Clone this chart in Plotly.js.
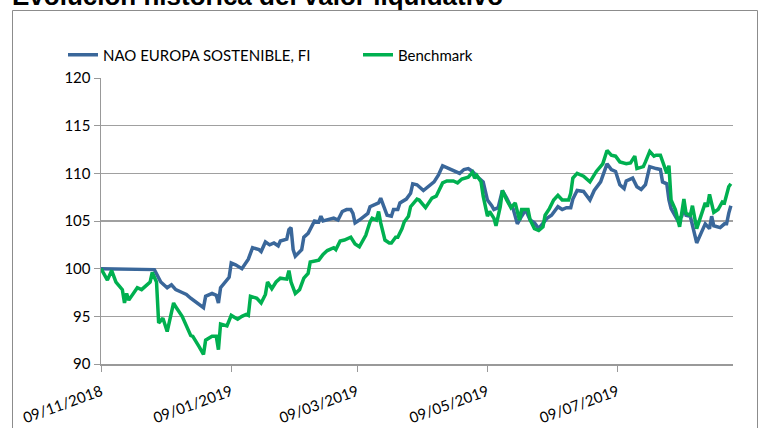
<!DOCTYPE html>
<html>
<head>
<meta charset="utf-8">
<script src="https://cdn.plot.ly/plotly-3.0.1.min.js"></script>
<style>html,body{margin:0;padding:0;background:#fff;}#chart{width:759px;height:428px;}</style>
</head>
<body>
<div id="chart"></div>
<script>
// ---- Data ----
const chartTitle = "Evolución histórica del valor liquidativo";
const fundName = "NAO EUROPA SOSTENIBLE, FI";
const benchName = "Benchmark";

const fundDates = [
"2018-11-09","2018-12-04","2018-12-07","2018-12-10","2018-12-12","2018-12-14","2018-12-17","2018-12-19","2018-12-21","2018-12-24",
"2018-12-27","2018-12-28","2018-12-31","2019-01-02","2019-01-03","2019-01-04","2019-01-06","2019-01-08","2019-01-09","2019-01-11",
"2019-01-14","2019-01-17","2019-01-18","2019-01-19","2019-01-22","2019-01-23","2019-01-25","2019-01-27","2019-01-29","2019-01-31",
"2019-02-01","2019-02-04","2019-02-05","2019-02-06","2019-02-07","2019-02-08","2019-02-11","2019-02-12","2019-02-14","2019-02-16",
"2019-02-17","2019-02-19","2019-02-20","2019-02-21","2019-02-24","2019-02-26","2019-02-28","2019-03-02","2019-03-04","2019-03-06",
"2019-03-07","2019-03-08","2019-03-10","2019-03-12","2019-03-14","2019-03-15","2019-03-17","2019-03-19","2019-03-20","2019-03-21",
"2019-03-23","2019-03-25","2019-03-26","2019-03-28","2019-03-29","2019-04-01","2019-04-03","2019-04-04","2019-04-06","2019-04-09",
"2019-04-12","2019-04-14","2019-04-16","2019-04-18","2019-04-21","2019-04-23","2019-04-26","2019-04-28","2019-04-30","2019-05-02",
"2019-05-04","2019-05-07","2019-05-08","2019-05-09","2019-05-11","2019-05-12","2019-05-14","2019-05-16","2019-05-18","2019-05-20",
"2019-05-21","2019-05-23","2019-05-25","2019-05-27","2019-05-28","2019-05-29","2019-05-31","2019-06-02","2019-06-03","2019-06-05",
"2019-06-06","2019-06-08","2019-06-10","2019-06-11","2019-06-13","2019-06-15","2019-06-17","2019-06-18","2019-06-20","2019-06-23",
"2019-06-26","2019-06-28","2019-07-01","2019-07-04","2019-07-06","2019-07-08","2019-07-10","2019-07-12","2019-07-13","2019-07-16",
"2019-07-18","2019-07-20","2019-07-22","2019-07-23","2019-07-24","2019-07-27","2019-07-29","2019-07-30","2019-08-01","2019-08-02",
"2019-08-03","2019-08-06","2019-08-08","2019-08-09","2019-08-10","2019-08-12","2019-08-14","2019-08-15","2019-08-17","2019-08-19",
"2019-08-21","2019-08-22","2019-08-23","2019-08-26","2019-08-28","2019-08-29","2019-08-30","2019-08-31"
];
const fundValues = [
100.0,99.9,98.6,98.0,98.3,97.8,97.5,97.3,96.9,96.4,
95.9,97.1,97.4,97.2,96.4,98.0,98.5,99.1,100.6,100.4,
100.0,101.0,101.6,102.2,102.0,101.8,102.8,102.5,102.7,102.4,
102.9,103.1,104.1,104.3,102.0,101.3,102.0,103.3,103.7,104.6,
105.0,104.9,105.5,105.0,105.2,105.3,105.1,106.0,106.2,106.2,
105.8,104.8,105.1,105.5,105.8,106.5,106.7,106.9,107.4,106.7,
105.6,105.5,106.2,106.2,106.9,107.3,107.9,108.9,108.8,108.2,
108.8,109.1,109.8,110.8,110.5,110.3,110.0,110.4,110.5,110.2,
109.7,109.1,108.1,107.2,106.6,106.2,106.4,108.2,107.4,106.5,
106.3,104.7,105.5,106.2,105.6,105.1,104.8,104.2,104.5,105.1,
105.3,105.6,106.2,106.5,106.2,106.4,106.4,107.3,108.2,108.1,
107.2,108.2,109.1,111.0,110.4,110.2,108.8,108.4,109.2,109.5,
108.6,108.3,108.8,109.8,110.7,110.5,110.4,109.1,108.9,107.2,
106.3,105.1,105.5,106.4,105.6,105.5,103.7,102.7,103.7,104.7,
104.2,105.5,104.5,104.3,104.7,104.7,105.8,106.6
];

const benchDates = [
"2018-11-09","2018-11-12","2018-11-14","2018-11-16","2018-11-19","2018-11-20","2018-11-21","2018-11-22","2018-11-26","2018-11-28",
"2018-11-30","2018-12-02","2018-12-03","2018-12-05","2018-12-06","2018-12-08","2018-12-10","2018-12-13","2018-12-14","2018-12-17",
"2018-12-21","2018-12-22","2018-12-25","2018-12-27","2018-12-28","2018-12-31","2019-01-02","2019-01-03","2019-01-04","2019-01-07",
"2019-01-09","2019-01-12","2019-01-14","2019-01-16","2019-01-17","2019-01-18","2019-01-21","2019-01-23","2019-01-25","2019-01-26",
"2019-01-28","2019-01-30","2019-02-01","2019-02-04","2019-02-05","2019-02-06","2019-02-08","2019-02-10","2019-02-12","2019-02-14",
"2019-02-15","2019-02-17","2019-02-19","2019-02-21","2019-02-23","2019-02-26","2019-02-27","2019-03-01","2019-03-03","2019-03-06",
"2019-03-08","2019-03-10","2019-03-11","2019-03-13","2019-03-15","2019-03-16","2019-03-18","2019-03-19","2019-03-20","2019-03-22",
"2019-03-24","2019-03-25","2019-03-27","2019-03-28","2019-03-30","2019-03-31","2019-04-02","2019-04-03","2019-04-06","2019-04-07",
"2019-04-10","2019-04-13","2019-04-15","2019-04-18","2019-04-20","2019-04-23","2019-04-25","2019-04-27","2019-04-30","2019-05-02",
"2019-05-03","2019-05-04","2019-05-06","2019-05-07","2019-05-09","2019-05-10","2019-05-12","2019-05-13","2019-05-15","2019-05-16",
"2019-05-18","2019-05-20","2019-05-22","2019-05-24","2019-05-25","2019-05-28","2019-05-29","2019-05-31","2019-06-02","2019-06-04",
"2019-06-05","2019-06-07","2019-06-09","2019-06-11","2019-06-13","2019-06-16","2019-06-17","2019-06-18","2019-06-20","2019-06-23",
"2019-06-26","2019-06-29","2019-07-02","2019-07-04","2019-07-06","2019-07-08","2019-07-10","2019-07-13","2019-07-15","2019-07-17",
"2019-07-18","2019-07-21","2019-07-22","2019-07-24","2019-07-26","2019-07-27","2019-07-29","2019-07-31","2019-08-01","2019-08-02",
"2019-08-03","2019-08-05","2019-08-07","2019-08-09","2019-08-10","2019-08-12","2019-08-13","2019-08-15","2019-08-17","2019-08-19",
"2019-08-20","2019-08-21","2019-08-23","2019-08-25","2019-08-27","2019-08-28","2019-08-30","2019-08-31"
];
const benchValues = [
100.0,98.8,99.8,98.6,97.8,96.4,97.4,96.7,98.0,97.8,
98.2,98.6,99.6,98.6,94.3,94.8,93.4,96.4,96.0,95.0,
93.0,92.9,91.8,91.0,92.5,92.9,92.9,91.5,94.2,94.0,
95.1,94.7,95.0,95.2,95.1,97.1,96.9,96.4,97.3,98.6,
97.9,98.6,99.0,98.9,99.8,98.6,97.4,97.8,99.0,99.5,
100.7,100.8,100.9,101.5,101.9,102.2,102.0,102.9,103.0,103.3,
102.6,102.3,102.7,103.5,104.9,105.3,105.1,106.0,104.8,103.0,
102.7,102.7,103.3,103.3,104.2,104.9,105.5,106.5,107.3,107.2,
106.4,107.4,107.6,109.0,109.2,109.2,109.0,109.4,109.6,110.1,
109.5,109.8,109.1,107.6,105.5,106.0,105.3,104.5,106.5,108.2,
107.2,106.4,106.9,105.1,106.2,106.2,105.1,104.2,104.0,104.4,
105.6,106.3,107.2,107.7,107.2,107.2,107.9,109.5,110.0,109.7,
109.1,110.2,111.0,112.4,111.9,111.8,111.2,111.0,111.1,111.8,
110.5,110.7,111.2,112.3,111.8,111.9,111.9,110.5,110.0,110.8,
107.2,106.2,104.4,107.3,105.8,105.6,106.6,104.2,105.5,106.9,
106.5,107.8,105.9,106.2,107.0,106.9,108.6,108.9
];

const xTickVals = ["2018-11-09","2019-01-09","2019-03-09","2019-05-09","2019-07-09"];
const xTickText = ["09/11/2018","09/01/2019","09/03/2019","09/05/2019","09/07/2019"];
const yTickVals = [90,95,100,105,110,115,120];

// ---- Chart ----
const W = 759, H = 428;
const M = {l:101, r:26, t:78, b:64};
const pw = W - M.l - M.r, ph = H - M.t - M.b;
const px = v => (v - M.l) / pw;          // page x -> paper x
const py = v => (H - M.b - v) / ph;      // page y -> paper y

const baseFont = {family: "Lato, 'Liberation Sans', sans-serif", size: 15, color: "#000"};

const traces = [
  {x: fundDates, y: fundValues, name: fundName, type: "scatter", mode: "lines",
   line: {color: "#3A679A", width: 3.5}},
  {x: benchDates, y: benchValues, name: benchName, type: "scatter", mode: "lines",
   line: {color: "#00B050", width: 3.5}}
];

const layout = {
  width: W, height: H,
  margin: M,
  paper_bgcolor: "#fff", plot_bgcolor: "#fff",
  font: baseFont,
  showlegend: true,
  legend: {orientation: "h", x: px(63), xanchor: "left", y: py(55), yanchor: "middle",
           font: baseFont, entrywidth: 250, entrywidthmode: "pixels", bgcolor: "rgba(0,0,0,0)"},
  xaxis: {type: "date", range: ["2018-11-09", "2019-09-01"],
          tickmode: "array", tickvals: xTickVals, ticktext: xTickText, tickangle: -20,
          ticks: "outside", ticklen: 6, tickcolor: "#999", tickwidth: 1,
          ticklabelstandoff: 6,
          showgrid: false, showline: true, linecolor: "#999", linewidth: 1.5,
          zeroline: false, tickfont: baseFont, fixedrange: true},
  yaxis: {range: [90, 120], tickmode: "array", tickvals: yTickVals,
          ticks: "outside", ticklen: 6, tickcolor: "#999", tickwidth: 1,
          showgrid: true, gridcolor: "#A0A0A0", gridwidth: 1.5,
          showline: true, linecolor: "#999", linewidth: 1.5,
          zeroline: false, tickfont: baseFont, fixedrange: true},
  annotations: [
    {text: "<b>" + chartTitle + "</b>", xref: "paper", yref: "paper",
     x: px(10), xanchor: "left", y: py(13), yanchor: "bottom", showarrow: false,
     font: {family: "'Liberation Sans', Arial, sans-serif", size: 26, color: "#000"}}
  ],
  shapes: [
    {type: "rect", xref: "paper", yref: "paper", layer: "below",
     x0: px(12.5), x1: px(757.5), y0: py(440), y1: py(10.5),
     line: {color: "#8C8C8C", width: 1}, fillcolor: "rgba(0,0,0,0)"}
  ]
};

Plotly.newPlot("chart", traces, layout, {staticPlot: true, displayModeBar: false});
</script>
</body>
</html>
